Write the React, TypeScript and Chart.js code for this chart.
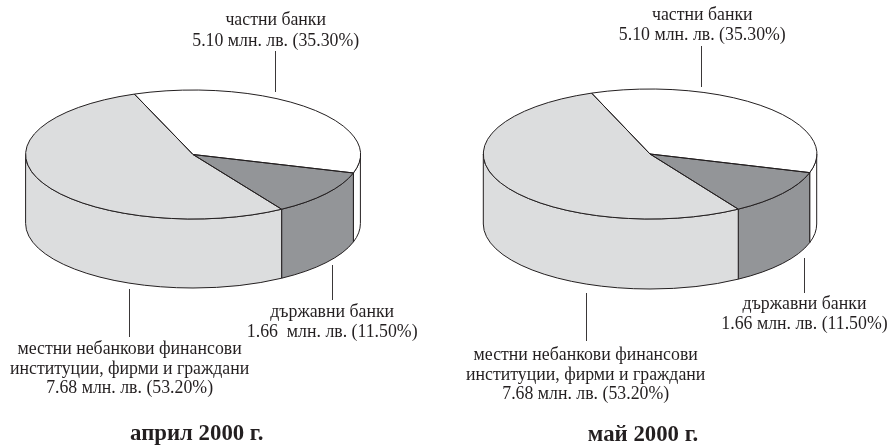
import React, { useEffect, useRef } from "react";
import { Chart, registerables } from "chart.js";

Chart.register(...registerables);

const categories = ["частни банки", "държавни банки", "местни небанкови финансови институции, фирми и граждани"];
const valuesApril = [5.1, 1.66, 7.68];
const valuesMay = [5.1, 1.66, 7.68];
const sliceColors = ["#ffffff", "#939598", "#dcddde"];

const titleApril = "април 2000 г.";
const titleMay = "май 2000 г.";
const privateLinesApril = ["частни банки", "5.10 млн. лв. (35.30%)"];
const stateLinesApril = ["държавни банки", "1.66  млн. лв. (11.50%)"];
const localLinesApril = ["местни небанкови финансови", "институции, фирми и граждани", "7.68 млн. лв. (53.20%)"];
const privateLinesMay = ["частни банки", "5.10 млн. лв. (35.30%)"];
const stateLinesMay = ["държавни банки", "1.66 млн. лв. (11.50%)"];
const localLinesMay = ["местни небанкови финансови", "институции, фирми и граждани", "7.68 млн. лв. (53.20%)"];

const INK = "#231f20";
const FONT = '"Liberation Serif", serif';
const H = 445;

type Block = { lines: string[]; x: number; y: number[] };
type Panel = {
  left: number; width: number; cx: number; rx: number; cy: number; ry: number; depth: number;
  values: number[];
  blocks: Block[];
  leaders: number[][];
  title: string; titleX: number; titleY: number;
};

const panels: Panel[] = [
  {
    left: 0, width: 445, cx: 193, rx: 167.4, cy: 154.5, ry: 64.5, depth: 69,
    values: valuesApril,
    blocks: [
      { lines: privateLinesApril, x: 275.7, y: [25, 45.5] },
      { lines: stateLinesApril, x: 332.2, y: [316.5, 336.5] },
      { lines: localLinesApril, x: 129.6, y: [354, 373.5, 393] },
    ],
    leaders: [[275.5, 51, 92], [332.5, 265, 300], [129.5, 289, 337]],
    title: titleApril, titleX: 196.7, titleY: 440,
  },
  {
    left: 445, width: 446, cx: 650, rx: 166.7, cy: 154, ry: 65, depth: 70,
    values: valuesMay,
    blocks: [
      { lines: privateLinesMay, x: 702.3, y: [20, 40] },
      { lines: stateLinesMay, x: 804.5, y: [309, 329] },
      { lines: localLinesMay, x: 585.7, y: [360, 379.5, 399] },
    ],
    leaders: [[701.5, 46, 87], [804.5, 258, 293], [586.5, 293, 341]],
    title: titleMay, titleX: 643, titleY: 441,
  },
];

const discPlugin = {
  id: "disc",
  beforeDatasetsDraw(chart: any) {
    const p: Panel = chart.options.plugins.disc.panel;
    const ctx = chart.ctx;
    const arcs = chart.getDatasetMeta(0).data;
    const cx = p.cx - p.left;
    ctx.save();
    ctx.strokeStyle = INK;
    ctx.lineWidth = 1;
    ctx.lineJoin = "round";
    arcs.forEach((arc: any, i: number) => {
      const s = arc.startAngle;
      const e = arc.endAngle;
      for (let n = -1; n <= 1; n++) {
        const a = Math.max(s, 2 * Math.PI * n);
        const b = Math.min(e, Math.PI + 2 * Math.PI * n);
        if (b <= a) continue;
        ctx.beginPath();
        ctx.ellipse(cx, p.cy, p.rx, p.ry, 0, a, b);
        ctx.ellipse(cx, p.cy + p.depth, p.rx, p.ry, 0, b, a, true);
        ctx.closePath();
        ctx.fillStyle = sliceColors[i];
        ctx.fill();
        ctx.stroke();
      }
    });
    ctx.restore();
    const first = arcs[0];
    const k = p.ry / first.outerRadius;
    ctx.save();
    ctx.translate(0, p.cy - k * first.y);
    ctx.scale(1, k);
  },
  afterDatasetsDraw(chart: any) {
    const p: Panel = chart.options.plugins.disc.panel;
    const ctx = chart.ctx;
    ctx.restore();
    const off = p.left;
    const cx = p.cx - off;
    ctx.save();
    ctx.strokeStyle = INK;
    ctx.lineWidth = 1;
    ctx.lineJoin = "round";
    chart.getDatasetMeta(0).data.forEach((arc: any) => {
      ctx.beginPath();
      ctx.moveTo(cx, p.cy);
      ctx.ellipse(cx, p.cy, p.rx, p.ry, 0, arc.startAngle, arc.endAngle);
      ctx.closePath();
      ctx.stroke();
    });
    ctx.strokeStyle = "#3a3738";
    p.leaders.forEach(([x, y0, y1]) => {
      ctx.beginPath();
      ctx.moveTo(x - off, y0);
      ctx.lineTo(x - off, y1);
      ctx.stroke();
    });
    ctx.fillStyle = INK;
    ctx.textAlign = "center";
    ctx.textBaseline = "alphabetic";
    ctx.font = `17.8px ${FONT}`;
    p.blocks.forEach((b) => {
      b.lines.forEach((line, i) => ctx.fillText(line, b.x - off, b.y[i]));
    });
    ctx.font = `bold 22.8px ${FONT}`;
    ctx.fillText(p.title, p.titleX - off, p.titleY);
    ctx.restore();
  },
};

function Disc({ panel }: { panel: Panel }) {
  const ref = useRef<HTMLCanvasElement>(null);
  useEffect(() => {
    const localCx = panel.cx - panel.left;
    const side = 2 * panel.rx;
    const padV = (H - side) / 2;
    const chart = new Chart(ref.current as HTMLCanvasElement, {
      type: "pie",
      data: {
        labels: categories,
        datasets: [{ data: panel.values, backgroundColor: sliceColors, borderWidth: 0, clip: false } as any],
      },
      options: {
        responsive: false,
        animation: false,
        events: [],
        rotation: -20.5,
        layout: {
          padding: { left: localCx - panel.rx, right: panel.width - localCx - panel.rx, top: padV, bottom: padV },
        },
        plugins: { legend: { display: false }, tooltip: { enabled: false }, disc: { panel } } as any,
      },
      plugins: [discPlugin],
    });
    return () => chart.destroy();
  }, [panel]);
  return (
    <canvas
      ref={ref}
      width={panel.width}
      height={H}
      style={{ position: "absolute", left: panel.left, top: 0, width: panel.width, height: H }}
    />
  );
}

export default function App() {
  return (
    <div style={{ position: "fixed", left: 0, top: 0, width: 891, height: H, background: "#fff", overflow: "hidden" }}>
      {panels.map((p) => (
        <Disc key={p.left} panel={p} />
      ))}
    </div>
  );
}
